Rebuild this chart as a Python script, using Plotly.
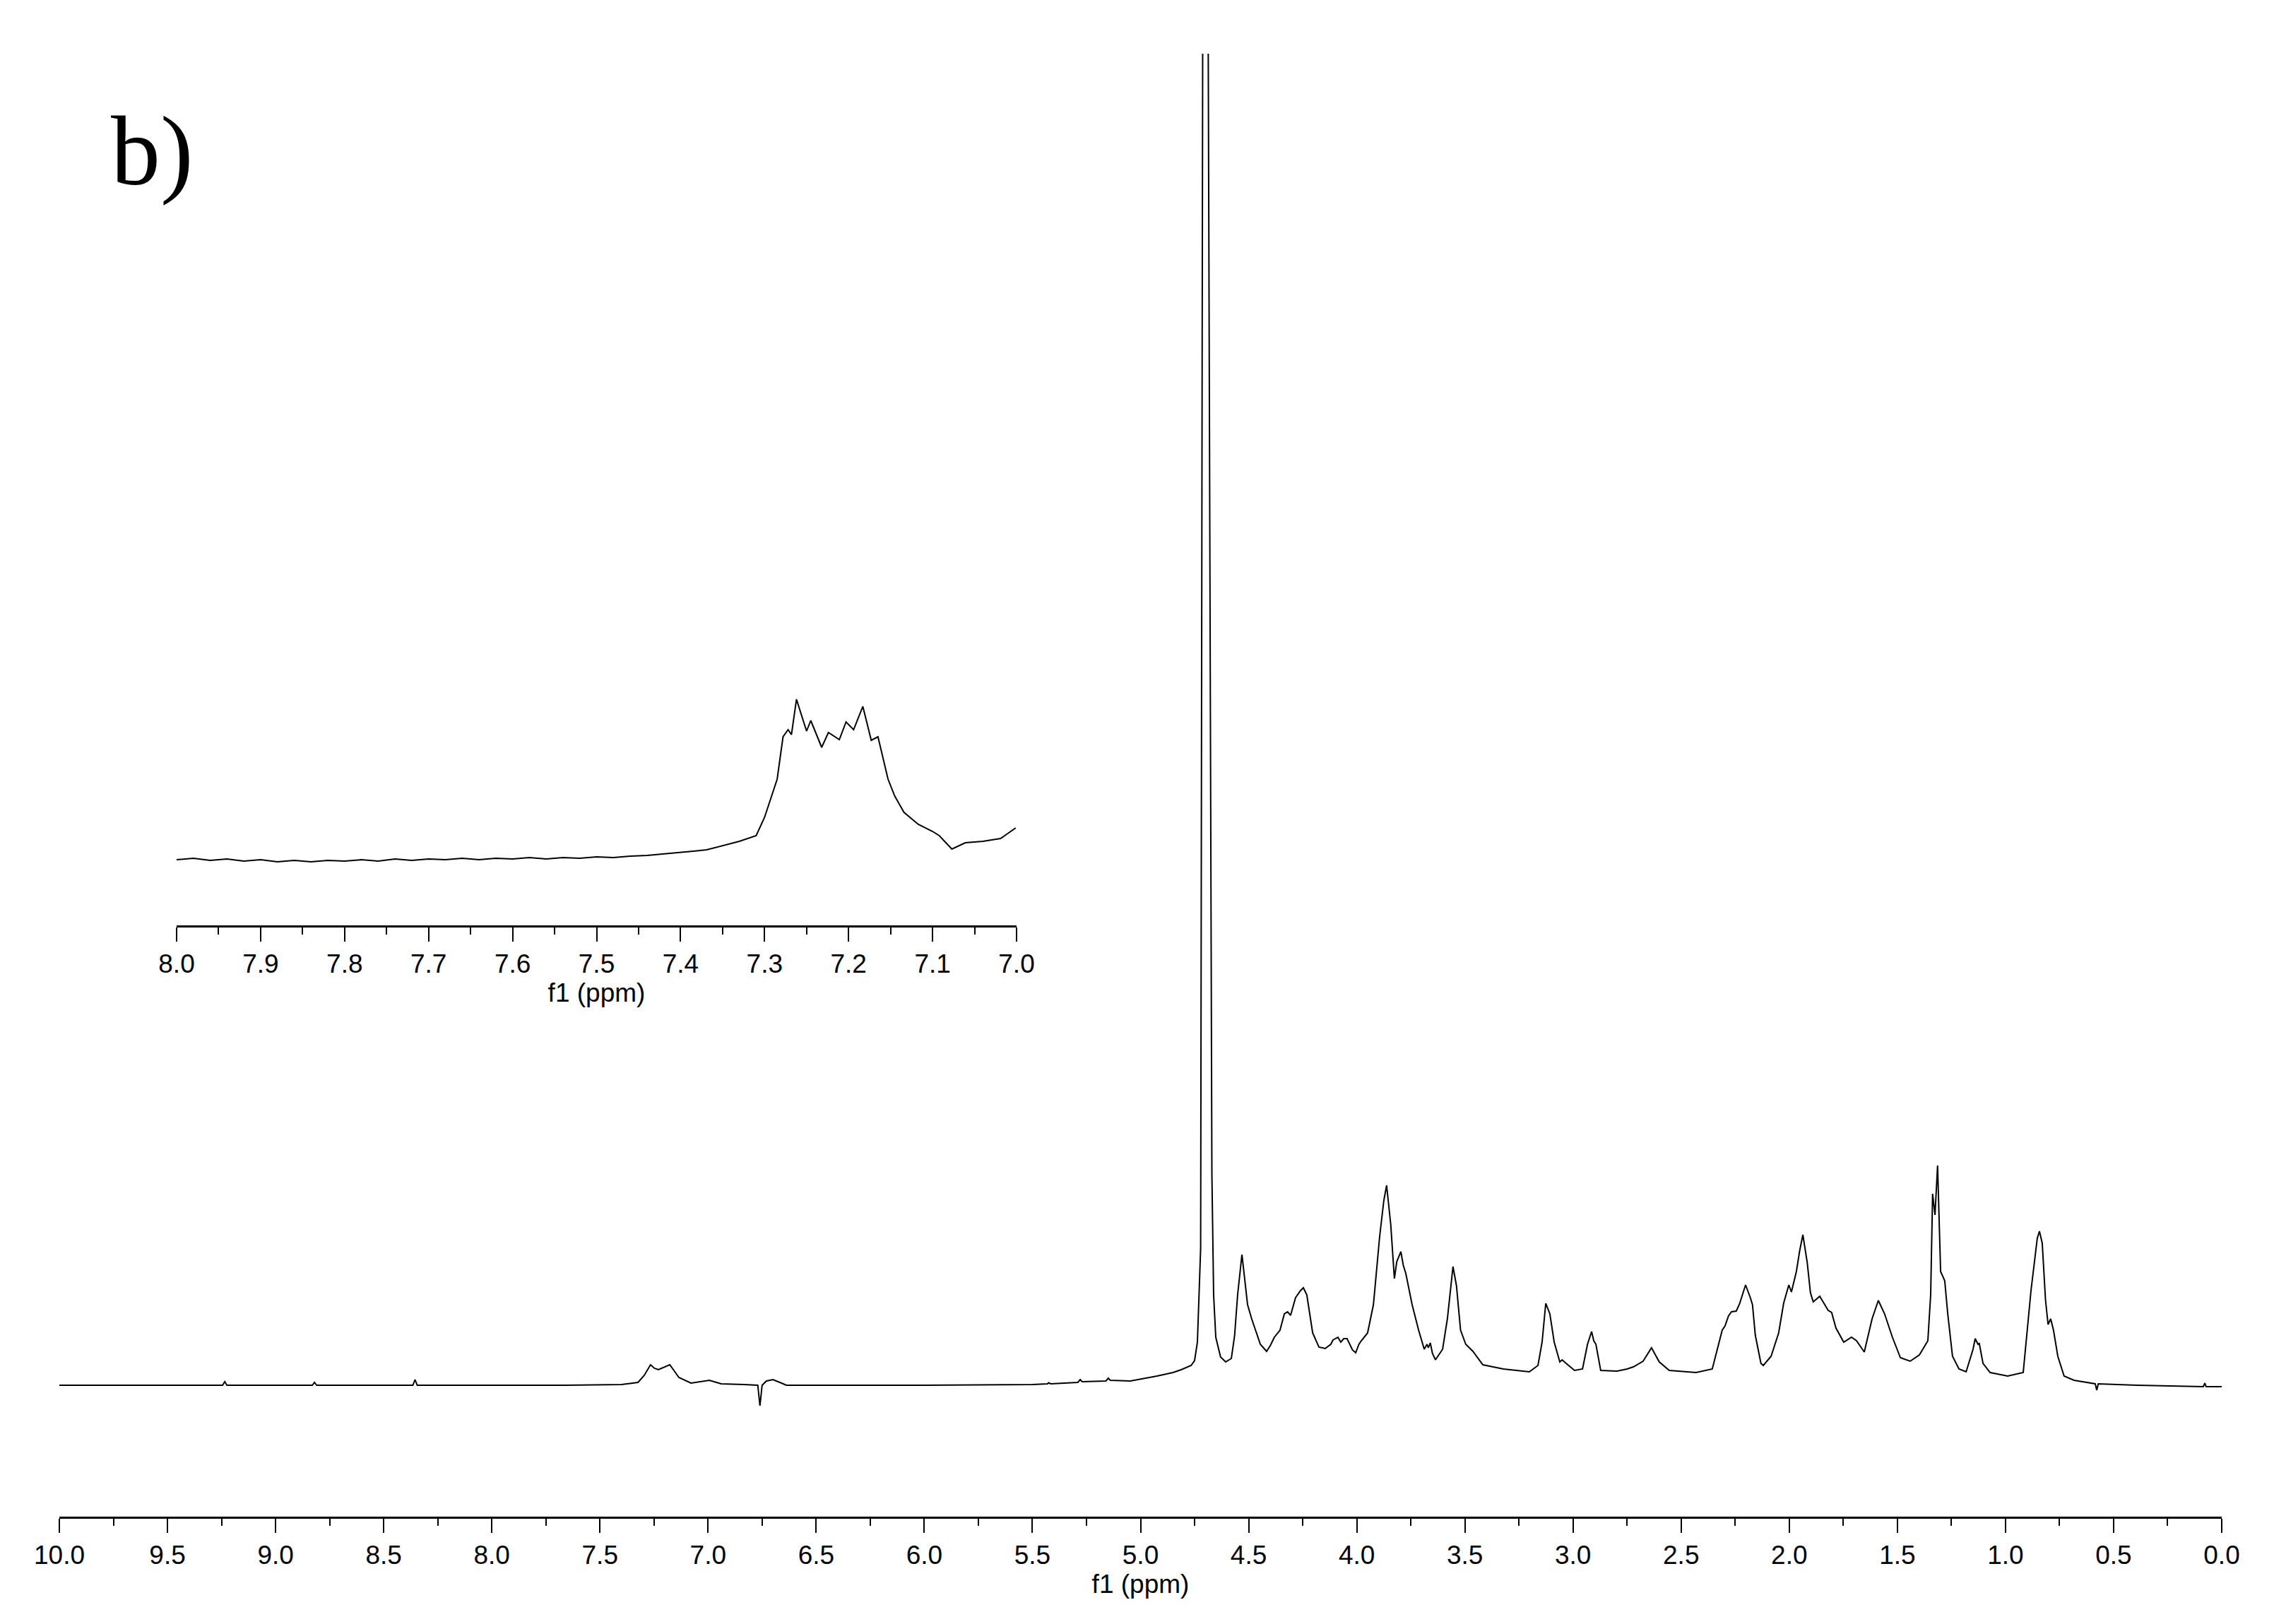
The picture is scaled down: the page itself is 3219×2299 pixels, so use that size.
import plotly.graph_objects as go

# main 1H spectrum (ppm, relative intensity)
main_ppm = [
    10.0, 9.40, 9.245, 9.235, 9.225, 8.83, 8.82, 8.81, 8.365, 8.355, 8.345,
    7.661, 7.40, 7.324, 7.295, 7.266, 7.248, 7.230, 7.200, 7.177, 7.158, 7.135,
    7.079, 7.04, 6.994, 6.95, 6.939, 6.834, 6.770, 6.760, 6.750, 6.73, 6.700,
    6.66, 6.638, 6.0, 5.5, 5.43, 5.425, 5.415, 5.29, 5.279, 5.27, 5.16, 5.149,
    5.14, 5.047, 4.924, 4.85, 4.812, 4.766, 4.750, 4.737, 4.722, 4.712, 4.700,
    4.688, 4.670, 4.662, 4.652, 4.630, 4.606, 4.580, 4.565, 4.551, 4.531,
    4.518, 4.505, 4.486, 4.446, 4.417, 4.400, 4.381, 4.355, 4.335, 4.320,
    4.306, 4.283, 4.260, 4.247, 4.231, 4.204, 4.175, 4.146, 4.120, 4.110,
    4.087, 4.074, 4.060, 4.045, 4.020, 4.005, 3.990, 3.979, 3.950, 3.923,
    3.894, 3.875, 3.862, 3.852, 3.843, 3.826, 3.815, 3.796, 3.785, 3.773,
    3.744, 3.714, 3.688, 3.675, 3.669, 3.660, 3.650, 3.636, 3.603, 3.581,
    3.568, 3.555, 3.539, 3.520, 3.496, 3.463, 3.417, 3.322, 3.202, 3.162,
    3.143, 3.126, 3.107, 3.087, 3.061, 3.050, 3.032, 2.993, 2.956, 2.933,
    2.914, 2.904, 2.894, 2.872, 2.796, 2.750, 2.721, 2.676, 2.637, 2.601,
    2.555, 2.431, 2.356, 2.326, 2.310, 2.297, 2.281, 2.267, 2.245, 2.230,
    2.202, 2.180, 2.170, 2.157, 2.131, 2.120, 2.084, 2.049, 2.026, 2.002,
    1.990, 1.967, 1.952, 1.937, 1.917, 1.902, 1.889, 1.859, 1.837, 1.820,
    1.804, 1.784, 1.748, 1.712, 1.689, 1.653, 1.617, 1.588, 1.559, 1.523,
    1.486, 1.441, 1.398, 1.359, 1.346, 1.337, 1.326, 1.314, 1.300, 1.281,
    1.267, 1.245, 1.215, 1.182, 1.150, 1.140, 1.127, 1.121, 1.104, 1.071,
    0.990, 0.918, 0.882, 0.853, 0.843, 0.830, 0.815, 0.803, 0.791, 0.778,
    0.758, 0.729, 0.683, 0.598, 0.585, 0.578, 0.571, 0.392, 0.147, 0.085,
    0.078, 0.072, 0.0,
]
main_int = [
    0.0, 0.0, 0.0, 0.5, 0.0, 0.0, 0.4, 0.0, 0.0, 0.8, 0.0,
    0.0, 0.1, 0.4, 1.4, 2.9, 2.4, 2.2, 2.6, 2.9, 2.1, 1.1,
    0.3, 0.5, 0.7, 0.3, 0.2, 0.1, 0.0, -2.9, 0.0, 0.6, 0.8,
    0.3, 0.0, 0.0, 0.1, 0.2, 0.35, 0.2, 0.4, 0.8, 0.5, 0.6, 1.0,
    0.7, 0.6, 1.3, 1.8, 2.2, 2.8, 3.5, 6.1, 19.4, 200.0, 900.0,
    200.0, 30.0, 12.8, 6.8, 4.0, 3.3, 3.8, 7.0, 12.8, 18.5,
    15.0, 11.4, 9.4, 5.8, 4.8, 5.6, 6.8, 7.8, 10.1, 10.4,
    9.9, 12.4, 13.4, 13.8, 12.8, 7.4, 5.4, 5.2, 5.8, 6.4,
    6.8, 6.1, 6.6, 6.6, 5.0, 4.6, 5.8, 6.3, 7.4, 11.4,
    21.1, 26.1, 28.3, 25.0, 22.8, 15.1, 17.5, 18.9, 17.0, 15.8,
    11.4, 7.8, 5.1, 5.8, 5.3, 6.0, 4.5, 3.6, 5.1, 9.4,
    13.4, 16.8, 14.1, 7.8, 5.8, 4.8, 2.9, 2.3, 1.9, 2.8,
    6.1, 11.6, 10.1, 6.1, 3.3, 3.6, 3.1, 2.1, 2.3, 5.8,
    7.6, 6.3, 5.8, 2.1, 2.0, 2.3, 2.6, 3.4, 5.3, 3.3,
    2.1, 1.8, 2.3, 5.8, 7.8, 8.4, 9.8, 10.4, 10.5, 11.5,
    14.2, 12.4, 11.4, 7.1, 3.1, 2.8, 4.1, 7.4, 11.6, 14.2,
    13.2, 16.1, 19.0, 21.3, 17.4, 13.1, 11.8, 12.6, 11.4, 10.6,
    10.3, 8.1, 6.1, 6.8, 6.3, 4.7, 9.4, 12.0, 10.1, 6.8,
    3.9, 3.4, 4.3, 6.3, 12.8, 27.1, 24.1, 31.1, 16.1, 14.8,
    10.1, 4.1, 2.3, 1.9, 5.1, 6.6, 5.8, 5.9, 3.1, 1.8,
    1.3, 1.8, 13.4, 20.8, 21.8, 20.1, 12.1, 8.6, 9.4, 7.8,
    4.1, 1.3, 0.7, 0.3, 0.2, -0.7, 0.2, 0.0, -0.2, -0.2,
    0.3, -0.2, -0.2,
]

# inset: aromatic region 8.0 - 7.0 ppm
inset_ppm = [
    8.00, 7.98, 7.96, 7.94, 7.92, 7.90, 7.88, 7.86, 7.84, 7.82, 7.80, 7.78,
    7.76, 7.74, 7.72, 7.70, 7.68, 7.66, 7.64, 7.62, 7.60, 7.58, 7.56, 7.54,
    7.52, 7.50, 7.48, 7.46, 7.44, 7.42, 7.40, 7.385, 7.369, 7.35, 7.33, 7.31,
    7.300, 7.285, 7.278, 7.272, 7.268, 7.262, 7.254, 7.250, 7.245, 7.232,
    7.224, 7.211, 7.203, 7.194, 7.183, 7.173, 7.165, 7.153, 7.145, 7.134,
    7.117, 7.100, 7.092, 7.077, 7.061, 7.04, 7.019, 7.001,
]
inset_int = [
    0.0, 0.2, -0.1, 0.1, -0.2, 0.0, -0.3, -0.1, -0.3, -0.1, -0.2, 0.0,
    -0.2, 0.1, -0.1, 0.1, 0.0, 0.2, 0.0, 0.2, 0.1, 0.3, 0.1, 0.3,
    0.2, 0.4, 0.3, 0.5, 0.6, 0.8, 1.0, 1.2, 1.4, 2.0, 2.6, 3.4,
    6.0, 11.4, 17.4, 18.4, 17.7, 22.7, 19.7, 18.2, 19.7, 15.9,
    18.0, 17.0, 19.5, 18.4, 21.7, 16.9, 17.4, 11.4, 9.0, 6.7,
    5.0, 4.0, 3.4, 1.5, 2.4, 2.6, 3.0, 4.5,
]

# the page body has an 8px margin, so the figure is shrunk by that much
# and every pixel position below is given in window coordinates
OFF = 8
W, H = 3219 - OFF, 2299 - OFF


def px_x(px):
    return (px - OFF) / W


def px_y(py):
    return (2299 - py) / H


tick_font = dict(family='Liberation Sans, Arial, sans-serif', size=37, color='black')

fig = go.Figure()

fig.add_trace(go.Scatter(
    x=main_ppm, y=main_int, mode='lines',
    line=dict(color='black', width=2),
    xaxis='x', yaxis='y', showlegend=False,
))
fig.add_trace(go.Scatter(
    x=inset_ppm, y=inset_int, mode='lines',
    line=dict(color='black', width=2),
    xaxis='x2', yaxis='y2', showlegend=False,
))

axis_common = dict(
    showline=True, linecolor='black', linewidth=3,
    ticks='outside', ticklen=20, tickwidth=2, tickcolor='black',
    showgrid=False, zeroline=False, tickformat='.1f',
    tickfont=tick_font, mirror=False, automargin=False,
)

fig.update_layout(
    width=W, height=H,
    margin=dict(l=0, r=0, t=0, b=0, pad=0, autoexpand=False),
    paper_bgcolor='white', plot_bgcolor='rgba(0,0,0,0)',
    xaxis=dict(
        axis_common,
        domain=[px_x(84), px_x(3145)], range=[10, 0], dtick=0.5, tick0=0,
        minor=dict(dtick=0.25, tick0=0, ticks='outside', ticklen=10,
                   tickwidth=2, tickcolor='black'),
        title=dict(text='f1 (ppm)', font=tick_font, standoff=2),
        anchor='y',
    ),
    yaxis=dict(
        domain=[px_y(2147), px_y(76)], range=[-18.6, 188.5],
        visible=False, anchor='x', automargin=False,
    ),
    xaxis2=dict(
        axis_common,
        domain=[px_x(250), px_x(1439)], range=[8.0, 7.0], dtick=0.1, tick0=0,
        minor=dict(dtick=0.05, tick0=0, ticks='outside', ticklen=10,
                   tickwidth=2, tickcolor='black'),
        title=dict(text='f1 (ppm)', font=tick_font, standoff=2),
        anchor='y2',
    ),
    yaxis2=dict(
        domain=[px_y(1310), px_y(960)], range=[-9.3, 25.7],
        visible=False, anchor='x2', automargin=False,
    ),
)

fig.add_annotation(
    x=px_x(155), y=px_y(213), xref='paper', yref='paper',
    text='b)', showarrow=False, xanchor='left', yanchor='middle',
    font=dict(family='Liberation Serif, Times New Roman, serif', size=140, color='black'),
)

fig.write_html("out.html")
